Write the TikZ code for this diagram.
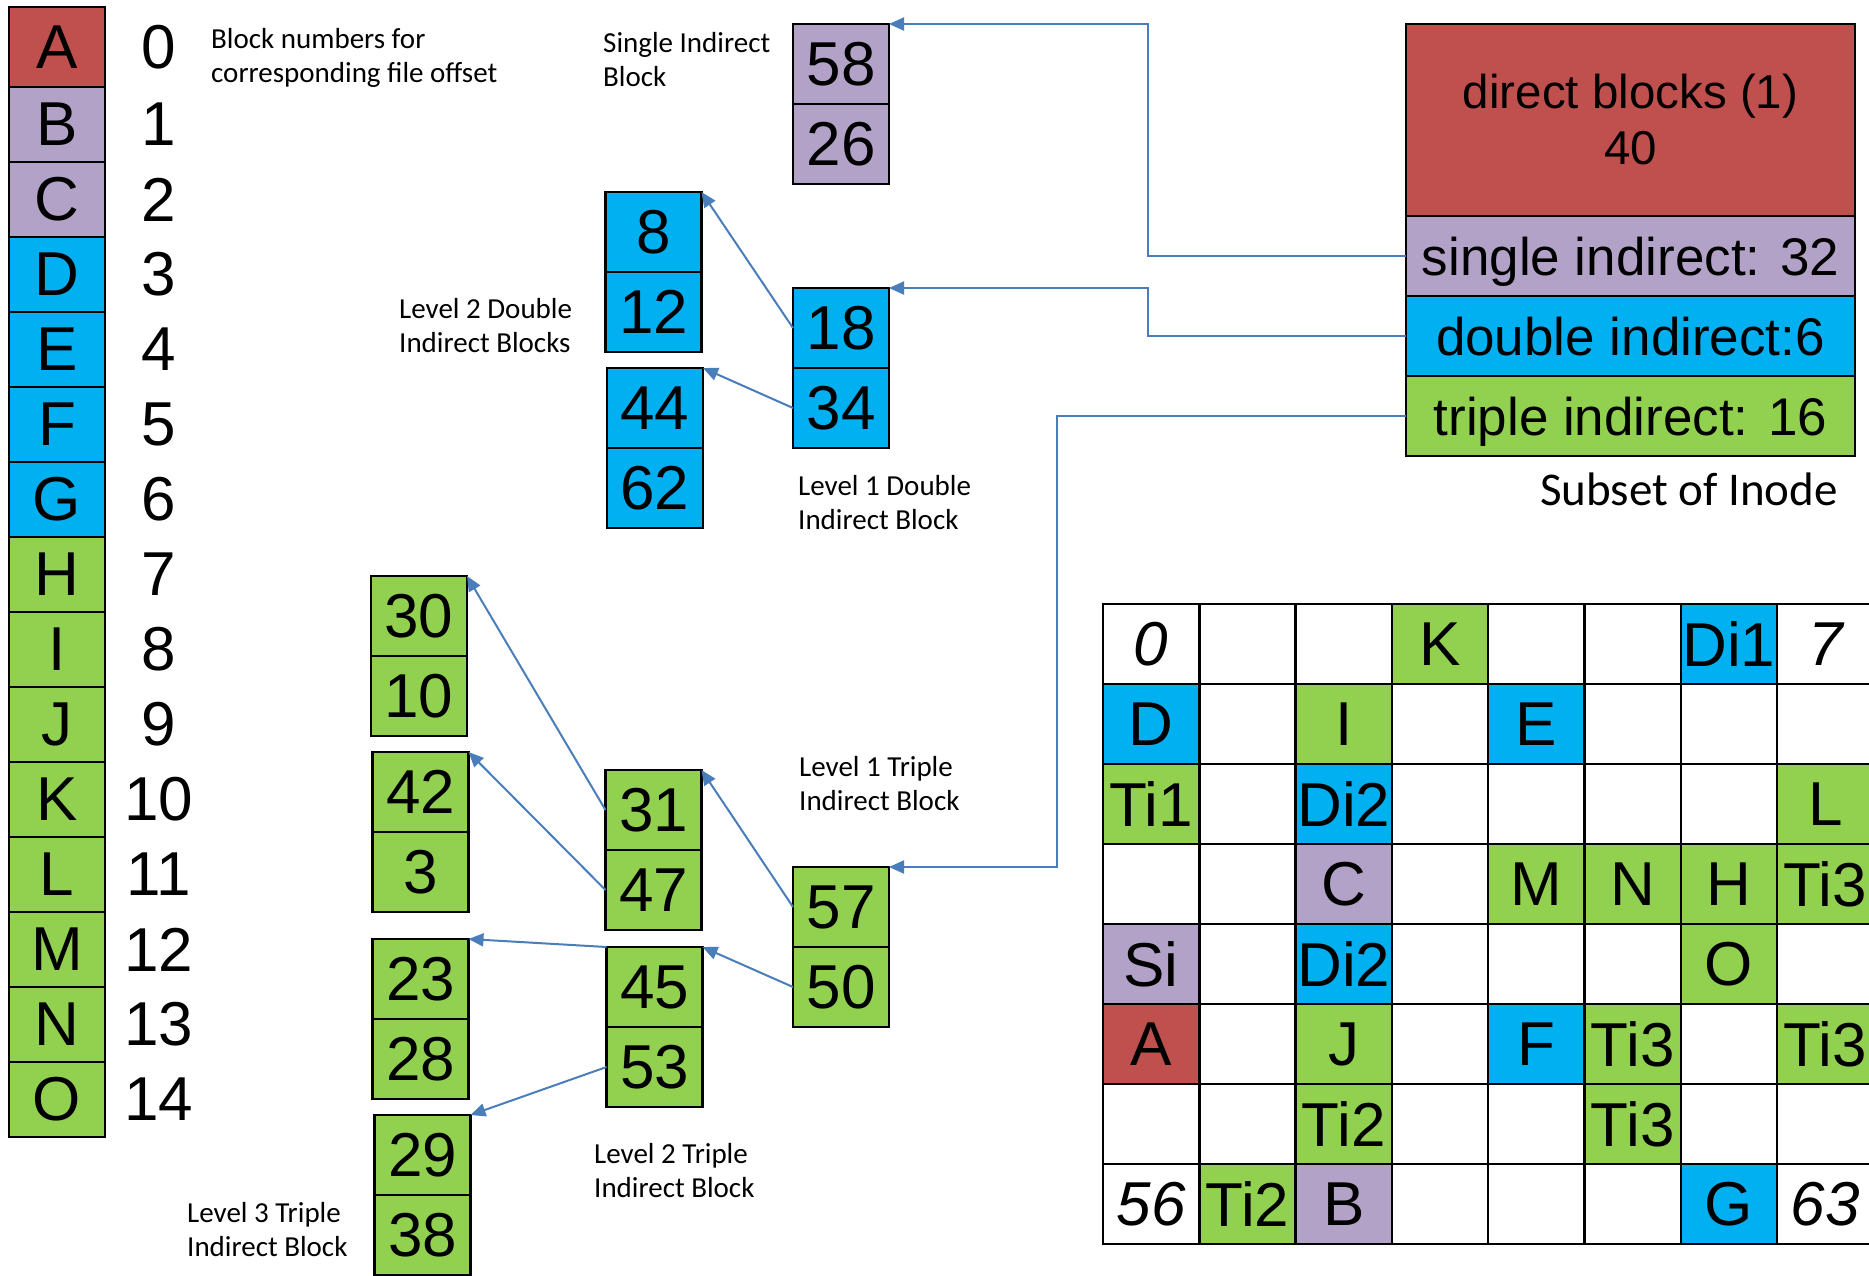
\documentclass[tikz,border=0pt]{standalone}
\usepackage{fontspec}
\setmainfont{Liberation Sans}
\newfontfamily\calibri{Carlito}
\usepackage{tikz}
\usetikzlibrary{positioning, arrows.meta}
\definecolor{blkred}{HTML}{C0504D}
\definecolor{blkpurple}{HTML}{B3A2C7}
\definecolor{blkblue}{HTML}{00B0F0}
\definecolor{blkgreen}{HTML}{92D050}
\definecolor{ptrblue}{HTML}{4A7EBB}
\tikzstyle{fileblk} = [rectangle, draw=black, line width=2.5pt, outer sep=0pt, inner sep=0pt, minimum width=96pt, minimum height=75pt, font=\fontsize{62}{62}\selectfont]
\tikzstyle{blocknum} = [inner sep=0pt, font=\fontsize{62}{62}\selectfont]
\tikzstyle{ptrblk} = [rectangle, draw=black, line width=2.5pt, outer sep=0pt, inner sep=0pt, minimum width=96pt, minimum height=80pt, font=\fontsize{62}{62}\selectfont]
\tikzstyle{inode} = [rectangle, draw=black, line width=2pt, outer sep=0pt, minimum width=449pt, minimum height=80pt, text height=38pt, text depth=0pt, font=\fontsize{53}{60}\selectfont]
\tikzstyle{diskcell} = [rectangle, draw=black, line width=2.5pt, outer sep=0pt, inner sep=0pt, minimum width=96.3pt, minimum height=80pt, font=\fontsize{62}{62}\selectfont]
\tikzstyle{corner} = [inner sep=0pt, font=\fontsize{62}{62}\selectfont\itshape]
\tikzstyle{note} = [inner sep=0pt, align=left, anchor=base west, font=\calibri\fontsize{29}{34}\selectfont]
\tikzstyle{pointer} = [line width=2pt, draw=ptrblue, -{Triangle[length=15pt,width=13pt]}]

\begin{document}
\begin{tikzpicture}[x=1pt, y=-1pt] % one unit = one pixel of the reference
\path[use as bounding box, fill=white] (0,0) rectangle (1869,1275);

% File blocks A..O
\node (fa) [fileblk, fill=blkred, minimum height=80pt] at (57,47) {A};
\node (fb) [fileblk, fill=blkpurple, below=0pt of fa] {B};
\node (fc) [fileblk, fill=blkpurple, below=0pt of fb] {C};
\node (fd) [fileblk, fill=blkblue, below=0pt of fc] {D};
\node (fe) [fileblk, fill=blkblue, below=0pt of fd] {E};
\node (ff) [fileblk, fill=blkblue, below=0pt of fe] {F};
\node (fg) [fileblk, fill=blkblue, below=0pt of ff] {G};
\node (fh) [fileblk, fill=blkgreen, below=0pt of fg] {H};
\node (fi) [fileblk, fill=blkgreen, below=0pt of fh] {I};
\node (fj) [fileblk, fill=blkgreen, below=0pt of fi] {J};
\node (fk) [fileblk, fill=blkgreen, below=0pt of fj] {K};
\node (fl) [fileblk, fill=blkgreen, below=0pt of fk] {L};
\node (fm) [fileblk, fill=blkgreen, below=0pt of fl] {M};
\node (fn) [fileblk, fill=blkgreen, below=0pt of fm] {N};
\node (fo) [fileblk, fill=blkgreen, below=0pt of fn] {O};

% Offsets
\node (n0) [blocknum, xshift=102pt] at (fa) {0};
\node (n1) [blocknum, xshift=102pt] at (fb) {1};
\node (n2) [blocknum, xshift=102pt] at (fc) {2};
\node (n3) [blocknum, xshift=102pt] at (fd) {3};
\node (n4) [blocknum, xshift=102pt] at (fe) {4};
\node (n5) [blocknum, xshift=102pt] at (ff) {5};
\node (n6) [blocknum, xshift=102pt] at (fg) {6};
\node (n7) [blocknum, xshift=102pt] at (fh) {7};
\node (n8) [blocknum, xshift=102pt] at (fi) {8};
\node (n9) [blocknum, xshift=102pt] at (fj) {9};
\node (n10) [blocknum, xshift=102pt] at (fk) {10};
\node (n11) [blocknum, xshift=102pt] at (fl) {11};
\node (n12) [blocknum, xshift=102pt] at (fm) {12};
\node (n13) [blocknum, xshift=102pt] at (fn) {13};
\node (n14) [blocknum, xshift=102pt] at (fo) {14};
\node (offsetnote) [note] at (211,82) {Block numbers for\\corresponding file offset};

% Single and double indirect blocks
\node (b58) [ptrblk, fill=blkpurple] at (841,64) {58};
\node (b26) [ptrblk, fill=blkpurple, below=0pt of b58] {26};
\node (b18) [ptrblk, fill=blkblue] at (841,328) {18};
\node (b34) [ptrblk, fill=blkblue, below=0pt of b18] {34};
\node (b8) [ptrblk, fill=blkblue] at (653.5,232) {8};
\node (b12) [ptrblk, fill=blkblue, below=0pt of b8] {12};
\node (b44) [ptrblk, fill=blkblue] at (655,408) {44};
\node (b62) [ptrblk, fill=blkblue, below=0pt of b44] {62};

% Triple indirect blocks
\node (b57) [ptrblk, fill=blkgreen] at (841,907) {57};
\node (b50) [ptrblk, fill=blkgreen, below=0pt of b57] {50};
\node (b31) [ptrblk, fill=blkgreen] at (653.5,810) {31};
\node (b47) [ptrblk, fill=blkgreen, below=0pt of b31] {47};
\node (b45) [ptrblk, fill=blkgreen] at (654.5,987) {45};
\node (b53) [ptrblk, fill=blkgreen, below=0pt of b45] {53};
\node (b30) [ptrblk, fill=blkgreen] at (419,616) {30};
\node (b10) [ptrblk, fill=blkgreen, below=0pt of b30] {10};
\node (b42) [ptrblk, fill=blkgreen] at (420.5,792) {42};
\node (b3) [ptrblk, fill=blkgreen, below=0pt of b42] {3};
\node (b23) [ptrblk, fill=blkgreen] at (420.5,979) {23};
\node (b28) [ptrblk, fill=blkgreen, below=0pt of b23] {28};
\node (b29) [ptrblk, fill=blkgreen] at (422.5,1155) {29};
\node (b38) [ptrblk, fill=blkgreen, below=0pt of b29] {38};

% Notes
\node (sinote) [note] at (603,86) {Single Indirect\\Block};
\node (di2note) [note] at (399,352) {Level 2 Double\\Indirect Blocks};
\node (di1note) [note] at (798,529) {Level 1 Double\\Indirect Block};
\node (ti1note) [note] at (799,810) {Level 1 Triple\\Indirect Block};
\node (ti2note) [note] at (594,1197) {Level 2 Triple\\Indirect Block};
\node (ti3note) [note] at (187,1256) {Level 3 Triple\\Indirect Block};

% Inode
\node (direct) [inode, fill=blkred, minimum height=192pt, align=center, text height=, text depth=, font=\fontsize{47.5}{56}\selectfont] at (1630.5,120) {direct blocks (1)\\40};
\node (single) [inode, fill=blkpurple, below=0pt of direct] {single indirect: 32};
\node (double) [inode, fill=blkblue, below=0pt of single] {double indirect:6};
\node (triple) [inode, fill=blkgreen, below=0pt of double] {triple indirect: 16};
\node (subset) [anchor=base east, inner sep=0pt, font=\calibri\fontsize{47}{50}\selectfont] at (1838,505) {Subset of Inode};

% Disk blocks 0..63
\foreach \i in {0,...,7}
  \foreach \j in {0,...,7}
    \node (d\i\j) [diskcell] at ({1151.15+96.3*\i},{644+80*\j}) {};
\foreach \c/\col/\txt in {d30/blkgreen/K, d60/blkblue/Di1, d01/blkblue/D, d21/blkgreen/I, d41/blkblue/E,
    d02/blkgreen/Ti1, d22/blkblue/Di2, d72/blkgreen/L, d23/blkpurple/C, d43/blkgreen/M, d53/blkgreen/N,
    d63/blkgreen/H, d73/blkgreen/Ti3, d04/blkpurple/Si, d24/blkblue/Di2, d64/blkgreen/O, d05/blkred/A,
    d25/blkgreen/J, d45/blkblue/F, d55/blkgreen/Ti3, d75/blkgreen/Ti3, d26/blkgreen/Ti2, d56/blkgreen/Ti3,
    d17/blkgreen/Ti2, d27/blkpurple/B, d67/blkblue/G}
  \node [diskcell, fill=\col] at (\c) {\txt};
\node [corner] at (d00) {0};
\node [corner] at (d70) {7};
\node [corner] at (d07) {56};
\node [corner] at (d77) {63};

% Pointers
\draw [pointer] (single.west) -- ++(-258,0) |- (b58.north east);
\draw [pointer] (double.west) -- ++(-258,0) |- (b18.north east);
\draw [pointer] (triple.west) -- ++(-349,0) |- (b57.north east);
\draw [pointer] (b18.west) -- (b8.north east);
\draw [pointer] (b34.west) -- (b44.north east);
\draw [pointer] (b57.west) -- (b31.north east);
\draw [pointer] (b50.west) -- (b45.north east);
\draw [pointer] (b31.west) -- (b30.north east);
\draw [pointer] (b47.west) -- (b42.north east);
\draw [pointer] (b45.north west) -- (b23.north east);
\draw [pointer] (b53.west) -- (b29.north east);

\end{tikzpicture}
\end{document}
